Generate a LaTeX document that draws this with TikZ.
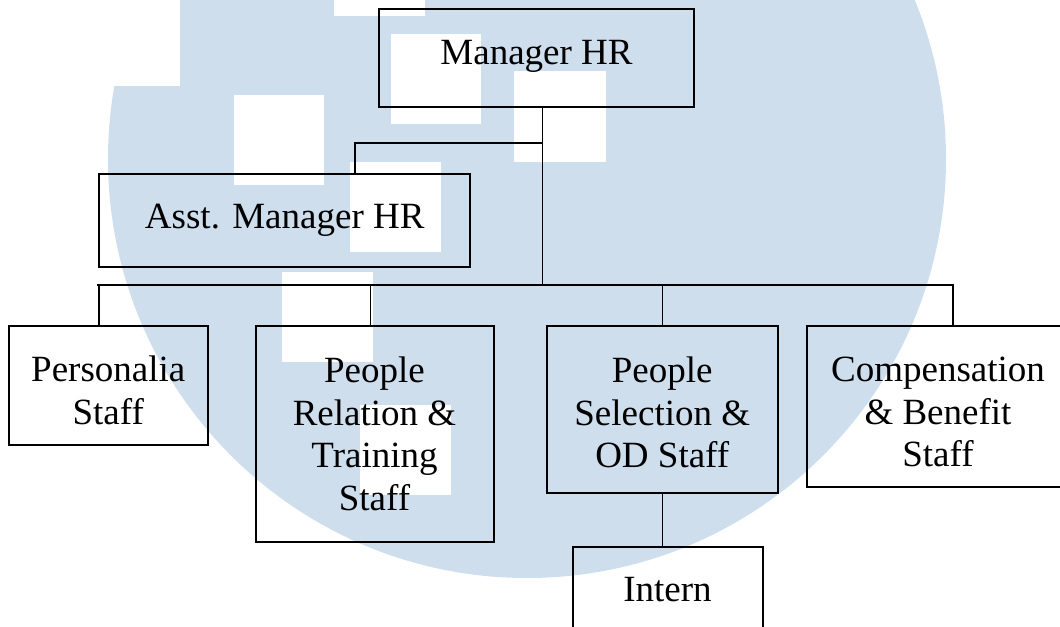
\documentclass[tikz,border=0pt]{standalone}
\usepackage{fontspec}
\setmainfont{Liberation Serif}

\definecolor{wmblue}{RGB}{206,222,237}

\begin{document}
\begin{tikzpicture}[x=0.75pt,y=0.75pt,yscale=-1,xscale=1,
        orgbox/.style={draw, line width=1.5pt, inner sep=0pt, align=center, font=\fontsize{27.75pt}{31.9pt}\selectfont},
        link/.style={line width=1.2pt}]
        \useasboundingbox (0,0) rectangle (1060,626);

        %Shape: Circle [watermark disc]
        \fill [wmblue] (527,159) circle [radius=419];
        %Shape: Rectangles [white blocks over the disc]
        \fill [white] (0,0) rectangle (180,86);
        \fill [white] (334,0) rectangle (425,16);
        \fill [white] (391,34) rectangle (481,124);
        \fill [white] (514,71) rectangle (606,162);
        \fill [white] (234,95) rectangle (324,185);
        \fill [white] (350,162) rectangle (441,252);
        \fill [white] (282,272) rectangle (373,362);
        \fill [white] (360,405) rectangle (451,495);

        % Boxes
        \node [orgbox, text depth=9pt, minimum width=236.25pt, minimum height=73.5pt] (mgr) at (536.5,58) {Manager HR};
        \node [orgbox, minimum width=278.6pt, minimum height=69.75pt] (asst) at (284.75,220.5) {Asst. Manager HR};
        \node [orgbox, text height=58.4pt, text depth=0pt, minimum width=148.9pt, minimum height=89.25pt] (pers) at (108.25,385.5) {Personalia\\Staff};
        \node [orgbox, minimum width=178.5pt, minimum height=162pt] (rel) at (374.5,434) {People\\Relation \&\\Training\\Staff};
        \node [orgbox, text height=87.3pt, text depth=0pt, minimum width=172.9pt, minimum height=125.25pt] (sel) at (662.25,409.5) {People\\Selection \&\\OD Staff};
        \node [orgbox, text height=90.1pt, text depth=0pt, minimum width=196.5pt, minimum height=120.75pt] (comp) at (938,406.5) {Compensation\\\& Benefit\\Staff};
        \node [orgbox, minimum width=142.5pt, minimum height=64.5pt] (intern) at (667.5,590) {Intern};

        % Junction points
        \coordinate (tee) at (542.5,143);
        \coordinate (asstin) at (355,143);
        \coordinate (spine) at (542.5,285);
        \coordinate (busL) at (97,285);
        \coordinate (busR) at (954,285);
        \coordinate (d1) at (99,285);
        \coordinate (d2) at (370.5,285);
        \coordinate (d3) at (662.5,285);
        \coordinate (d4) at (953,285);

        %Straight Lines [manager down to the bus]
        \draw [link] (mgr.south -| spine) -- (spine);
        %Straight Lines [branch to assistant]
        \draw [link] (tee) -- (asstin) -- (asstin |- asst.north);
        %Straight Lines [bus]
        \draw [link] (busL) -- (busR);
        %Straight Lines [drops to staff]
        \draw [link] (d1) -- (d1 |- pers.north);
        \draw [link] (d2) -- (d2 |- rel.north);
        \draw [link] (d3) -- (d3 |- sel.north);
        \draw [link] (d4) -- (d4 |- comp.north);
        %Straight Lines [selection to intern]
        \draw [link] (d3 |- sel.south) -- (d3 |- intern.north);

    \end{tikzpicture}
\end{document}
